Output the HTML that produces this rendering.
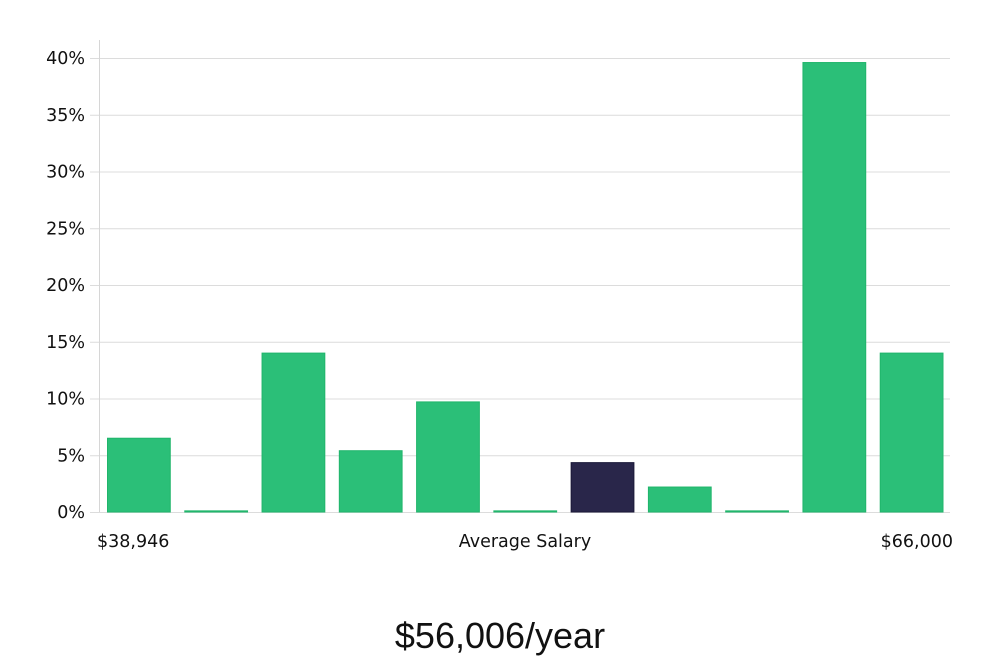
<!DOCTYPE html>
<html><head><meta charset="utf-8"><style>
body{margin:0;background:#fff;width:1000px;height:660px;overflow:hidden;font-family:"DejaVu Sans","Liberation Sans",sans-serif}
svg{display:block}
</style></head><body>
<svg id="chart" width="1000" height="660" xmlns="http://www.w3.org/2000/svg">
<g id="grid"></g>
<g id="yticks"></g>
<g id="bars"></g>
<line x1="99.5" y1="40" x2="99.5" y2="512" stroke="#d6d6d6" stroke-width="1"/>
<text x="97" y="547" font-size="17.5" fill="#111">$38,946</text>
<text x="525" y="547" font-size="17.5" fill="#111" text-anchor="middle">Average Salary</text>
<text x="953" y="547" font-size="17.5" fill="#111" text-anchor="end">$66,000</text>
<text x="500" y="648" font-size="36" fill="#111" text-anchor="middle" font-family="Liberation Sans, sans-serif">$56,006/year</text>
</svg>
<script>
const categories = ["b1","b2","b3","b4","b5","b6","b7","b8","b9","b10","b11"];
const values = [6.5, 0.1, 14.0, 5.4, 9.7, 0.1, 4.35, 2.2, 0.1, 39.6, 14.0];
const highlightIndex = [6];
const yTicks = [0,5,10,15,20,25,30,35,40];
const NS="http://www.w3.org/2000/svg";
const x0=100,x1=950,yBase=512,yTop=58,yMax=40;
const y=v=>yBase-(v/yMax)*(yBase-yTop);
const band=(x1-x0)/categories.length;
const xb=i=>x0+i*band;
const grid=document.getElementById('grid'),yt=document.getElementById('yticks'),bars=document.getElementById('bars');
yTicks.forEach(t=>{
  const l=document.createElementNS(NS,'line');
  
  
  l.setAttribute('x1',90);l.setAttribute('x2',x1);
  l.setAttribute('y1',y(t)+0.5);l.setAttribute('y2',y(t)+0.5);
  l.setAttribute('stroke','#dcdcdc');
  grid.appendChild(l);
  const tx=document.createElementNS(NS,'text');
  
  
  tx.setAttribute('x',85);tx.setAttribute('y',y(t)+6);
  tx.setAttribute('text-anchor','end');tx.setAttribute('font-size','17.5');tx.setAttribute('fill','#111');
  tx.textContent=t+'%';
  yt.appendChild(tx);
});
values.forEach((v,i)=>{
  const r=document.createElementNS(NS,'rect');
  
  
  const hi=highlightIndex.includes(i);
  r.setAttribute('x',xb(i)+7.5);r.setAttribute('width',band-14.5);
  r.setAttribute('y',y(v));r.setAttribute('height',Math.max(1,yBase-y(v)));
  r.setAttribute('fill',hi?'#29264a':'#2bbf78');
  r.setAttribute('stroke',hi?'#1a1838':'#20b56b');r.setAttribute('stroke-width','1');
  bars.appendChild(r);
});
</script>
</body></html>
